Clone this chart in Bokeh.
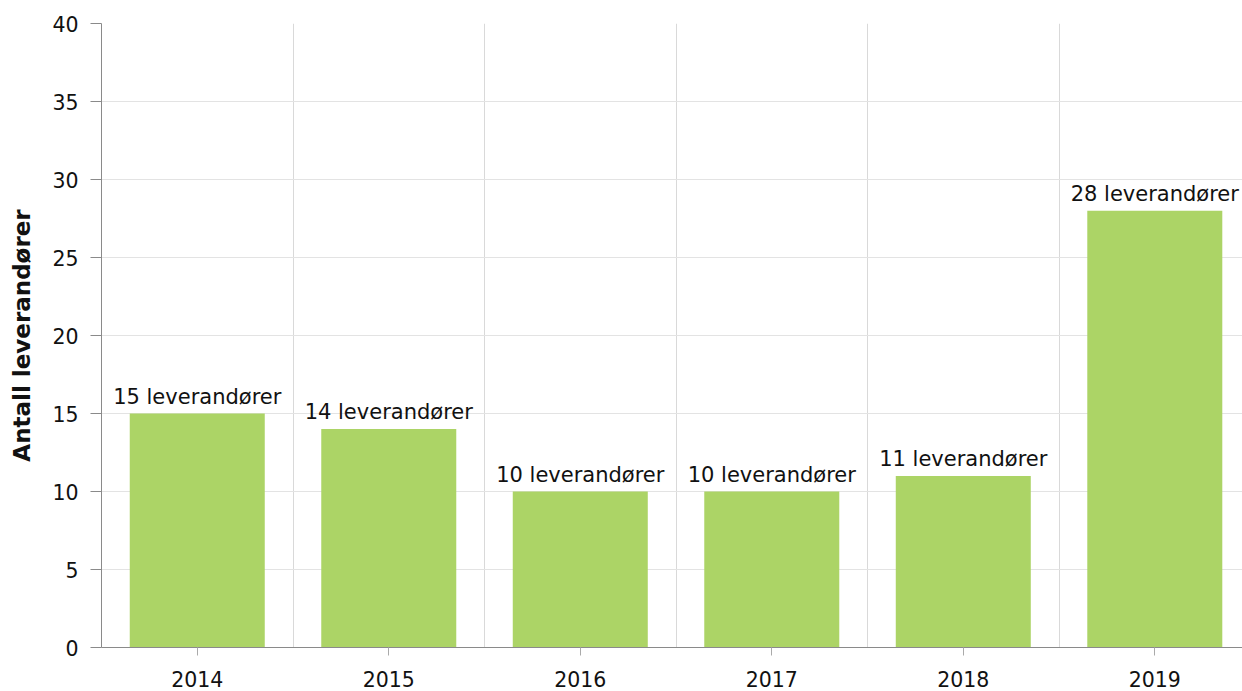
from bokeh.plotting import figure
from bokeh.models import Range1d, FixedTicker, ColumnDataSource, LabelSet
from bokeh.core.properties import value
from bokeh.embed import file_html
from bokeh.resources import INLINE

years = ["2014", "2015", "2016", "2017", "2018", "2019"]
counts = [15, 14, 10, 10, 11, 28]
labels = [f"{c} leverandører" for c in counts]

xpos = [i + 0.5 for i in range(len(years))]
src = ColumnDataSource(dict(x=xpos, top=counts, label=labels))

FONT = "DejaVu Sans"

p = figure(width=1242, height=691, output_backend="svg", toolbar_location=None,
           x_range=Range1d(0, 5.958), y_range=Range1d(0, 40),
           min_border_left=101, min_border_right=0, min_border_top=23, min_border_bottom=44)
p.outline_line_color = None
p.background_fill_color = "white"

p.vbar(x="x", top="top", width=0.705, bottom=0, source=src,
       fill_color="#acd466", line_color=None)

p.add_layout(LabelSet(x="x", y="top", text="label", source=src,
                      text_align="center", text_baseline="alphabetic", y_offset=10,
                      text_font=value(FONT), text_font_size="21px", text_color="#111111"))

# x axis
p.xaxis.ticker = FixedTicker(ticks=xpos)
p.xaxis.major_label_overrides = {x: y for x, y in zip(xpos, years)}
p.xaxis.major_label_text_font = FONT
p.xaxis.major_label_text_font_size = "20.5px"
p.xaxis.major_label_text_color = "#111111"
p.xaxis.axis_line_color = "#8a8a8a"
p.xaxis.major_tick_line_color = "#aaaaaa"
p.xaxis.major_tick_out = 8
p.xaxis.major_tick_in = 0
p.xaxis.minor_tick_line_color = None
p.xaxis.major_label_standoff = 15

# vertical grid at category boundaries
p.xgrid.ticker = FixedTicker(ticks=list(range(0, 7)))
p.xgrid.grid_line_color = "#d9d9d9"

# y axis
p.yaxis.ticker = FixedTicker(ticks=list(range(0, 41, 5)))
p.yaxis.major_label_text_font = FONT
p.yaxis.major_label_text_font_size = "20.5px"
p.yaxis.major_label_text_color = "#111111"
p.yaxis.axis_line_color = "#8a8a8a"
p.yaxis.major_tick_line_color = "#8a8a8a"
p.yaxis.major_tick_out = 11
p.yaxis.major_tick_in = 0
p.yaxis.minor_tick_line_color = None
p.yaxis.major_label_standoff = 12
p.yaxis.axis_label = "Antall leverandører"
p.yaxis.axis_label_text_font = FONT
p.yaxis.axis_label_text_font_size = "23px"
p.yaxis.axis_label_text_font_style = "bold"
p.yaxis.axis_label_text_color = "#111111"
p.yaxis.axis_label_standoff = 14
p.ygrid.grid_line_color = "#e3e3e3"

open("out.html", "w").write(file_html(p, INLINE))
